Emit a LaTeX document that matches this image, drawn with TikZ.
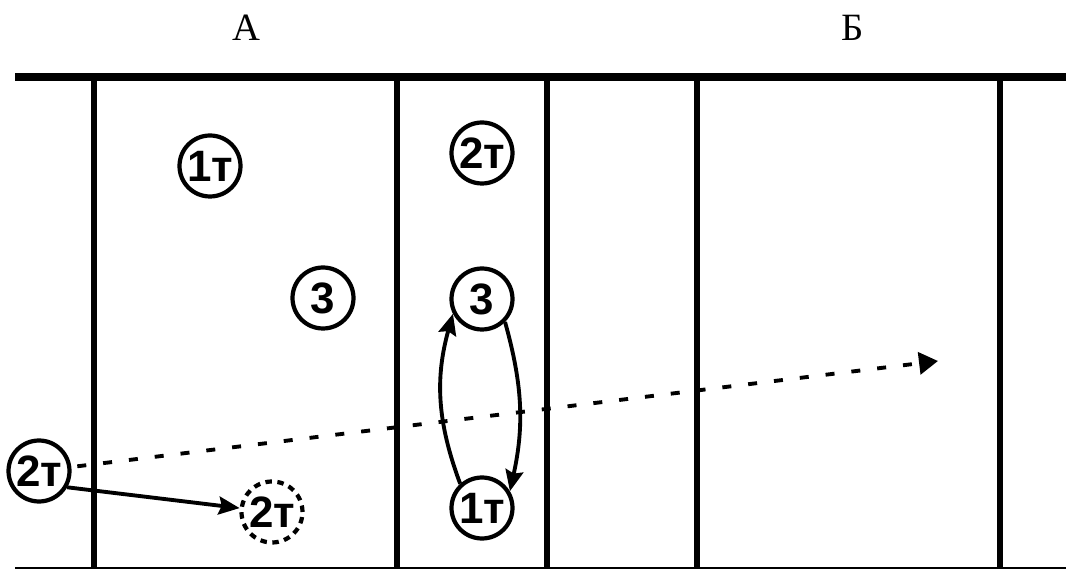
\documentclass[tikz,border=0pt]{standalone}
\usepackage{fontspec}
\setmainfont{Liberation Serif}
\newfontfamily\plfont{Liberation Sans}
\usetikzlibrary{arrows.meta}
\tikzset{
	player/.style={circle, draw, fill=white, line width=2.4pt, minimum size=1.22cm, inner sep=0pt, font=\plfont\bfseries\fontsize{25}{27}\selectfont}
}
\tikzset{
	ghost/.style={player, dash pattern=on 0.13cm off 0.11cm}
}
\tikzset{
	court/.style={line width=3pt}
}
\tikzset{
	move/.style={->, line width=2.2pt}
}
\newcommand{\zone}[1]{\fontsize{22}{24}\selectfont #1}

\begin{document}
\begin{tikzpicture}[x=0.02cm, y=-0.02cm, >={Stealth[length=0.42cm, width=0.36cm, inset=0.06cm]}]
      \useasboundingbox (0,0) rectangle (1066,570);
      % zone labels
      \node[anchor=base] (zA) at (246,41) {\zone{А}};
      \node[anchor=base] (zB) at (853,41) {\zone{Б}};
      % court lines
      \draw[line width=4pt] (15,77) -- (1066,77);
      \draw[line width=1.7pt] (15,568) -- (1066,568);
      \foreach \x in {94,397,547,697,1000}
        \draw[court] (\x,77) -- (\x,568);
      % players
      \node[player] (p1a) at (210,166) {1т};
      \node[player] (p3a) at (323,298) {3};
      \node[player] (p2b) at (482,153) {2т};
      \node[player] (p3b) at (482,299) {3};
      \node[player] (p1b) at (482,508) {1т};
      \node[player] (p2a) at (39,471) {2т};
      \node[ghost] (g2) at (272,512) {2т};
      % long pass
      \coordinate (tgt) at (938,361);
      \draw[line width=2.2pt, dash pattern=on 0.18cm off 0.34cm, shorten <=0.12cm,
        -{Triangle[length=0.38cm, width=0.44cm]}] (p2a) -- (tgt);
      % moves
      \draw[move] (p2a.-30) -- (g2);
      \draw[move] (p1b.132) to[bend left=18] (p3b.207);
      \draw[move] (p3b.-45) to[bend left=14] (p1b.31);
    \end{tikzpicture}
\end{document}
